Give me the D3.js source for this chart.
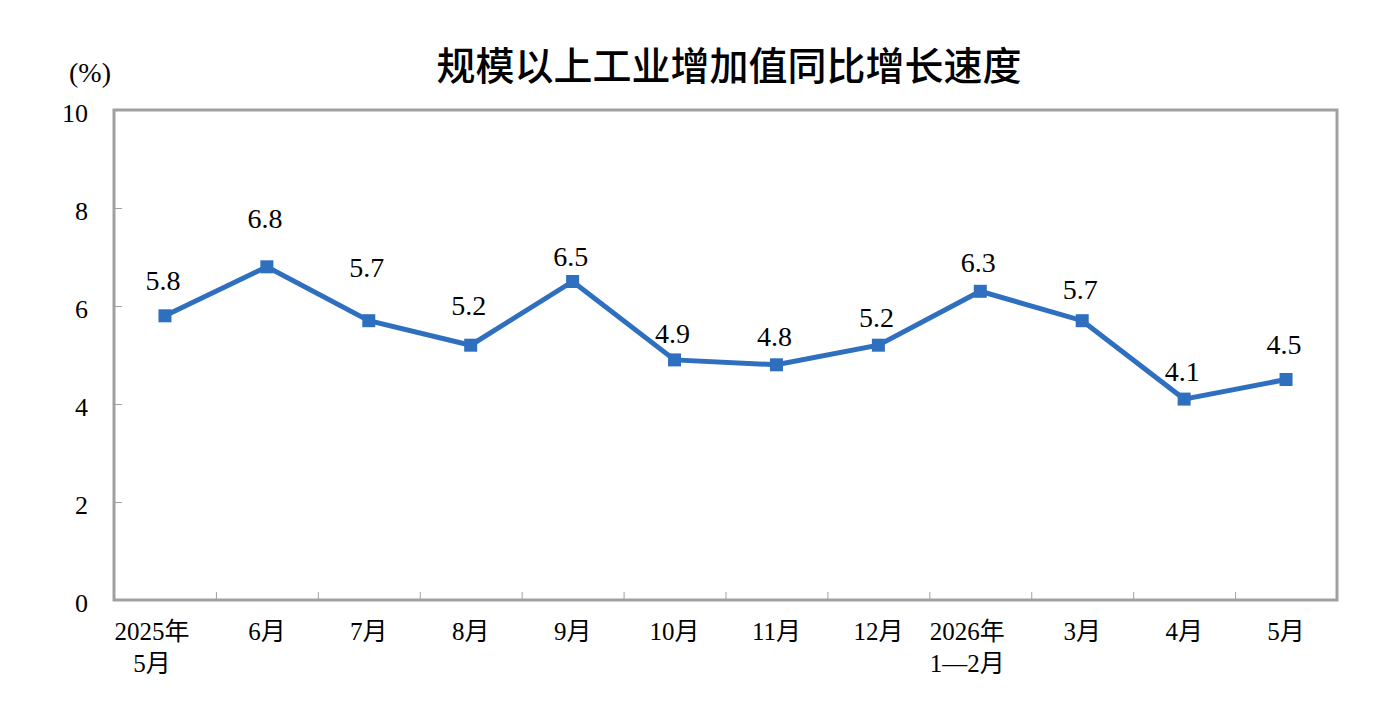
<!DOCTYPE html>
<html><head><meta charset="utf-8">
<script src="https://cdn.jsdelivr.net/npm/d3@7"></script>
<style>body{margin:0;background:#fff;} svg{display:block;}</style>
</head><body>
<script>
const title = "规模以上工业增加值同比增长速度";
const unitLabel = "(%)";
const categories = [["2025年","5月"],["6月"],["7月"],["8月"],["9月"],["10月"],["11月"],["12月"],["2026年","1—2月"],["3月"],["4月"],["5月"]];
const values = [5.8,6.8,5.7,5.2,6.5,4.9,4.8,5.2,6.3,5.7,4.1,4.5];
const yTicks = [0,2,4,6,8,10];
// vertical lift of each value label above its point (style)
const labelLift = [26,39,44,30,16,17,19,18,19,22,18,26];

const W=1400,H=727;
const m={left:114,right:1337,top:110,bottom:600};
const svg=d3.select("body").append("svg").attr("width",W).attr("height",H);
const serif="'Liberation Serif','Times New Roman','Noto Sans CJK SC',serif";
const blue="#2f6fc0", gray="#a0a0a0";

const x=d3.scaleBand().domain(d3.range(categories.length)).range([m.left,m.right]).padding(0);
const y=d3.scaleLinear().domain([0,10]).range([m.bottom,m.top]);

svg.append("text").attr("x",729).attr("y",80).attr("text-anchor","middle")
  .attr("font-family","'Noto Sans CJK SC',sans-serif").attr("font-size",39).attr("font-weight",500)
  .attr("fill","#000").text(title);

svg.append("text").attr("x",90).attr("y",82).attr("text-anchor","middle")
  .attr("font-family",serif).attr("font-size",28).attr("fill","#000").text(unitLabel);

// y axis ticks (inside) and labels
const yAxis=svg.append("g").attr("transform",`translate(${m.left},0)`)
  .call(d3.axisRight(y).tickValues(yTicks).tickSize(8).tickFormat(""));
yAxis.select(".domain").remove();
yAxis.selectAll("line").attr("stroke",gray).attr("stroke-width",1);
svg.append("g").selectAll("text").data(yTicks).join("text")
  .attr("x",88).attr("y",d=>y(d)+4).attr("dy","0.32em").attr("text-anchor","end")
  .attr("font-family",serif).attr("font-size",26).attr("fill","#000").text(d=>d);

// x ticks at category boundaries (inside)
const bounds=d3.range(1,categories.length);
const xTickScale=d3.scaleLinear().domain([0,categories.length]).range([m.left,m.right]);
const xAxis=svg.append("g").attr("transform",`translate(0,${m.bottom})`)
  .call(d3.axisTop(xTickScale).tickValues(bounds).tickSize(8).tickFormat(""));
xAxis.select(".domain").remove();
xAxis.selectAll("line").attr("stroke",gray).attr("stroke-width",1);

// x labels
const xl=svg.append("g").selectAll("text").data(categories).join("text")
  .attr("text-anchor","middle").attr("font-family",serif).attr("font-size",25).attr("fill","#000")
  .attr("transform",(d,i)=>`translate(${x(i)+x.bandwidth()/2+(d.length>1?-13:0)},640)`);
xl.selectAll("tspan").data(d=>d).join("tspan").attr("x",0).attr("y",(d,j)=>j*32).text(d=>d);

// frame
svg.append("rect").attr("x",m.left).attr("y",m.top).attr("width",m.right-m.left).attr("height",m.bottom-m.top)
  .attr("fill","none").attr("stroke",gray).attr("stroke-width",3);

// line
const cx=i=>x(i)+x.bandwidth()/2;
svg.append("path").datum(values).attr("fill","none").attr("stroke",blue).attr("stroke-width",5)
  .attr("stroke-linejoin","miter")
  .attr("d",d3.line().x((d,i)=>cx(i)).y(d=>y(d)));
svg.append("g").selectAll("rect").data(values).join("rect")
  .attr("x",(d,i)=>cx(i)-6.5).attr("y",d=>y(d)-6.5).attr("width",13).attr("height",13).attr("fill",blue);

// value labels
svg.append("g").selectAll("text").data(values).join("text")
  .attr("x",(d,i)=>cx(i)-2).attr("y",(d,i)=>y(d)-labelLift[i])
  .attr("text-anchor","middle").attr("font-family",serif).attr("font-size",28).attr("fill","#000")
  .text(d=>d.toFixed(1));
</script>
</body></html>
